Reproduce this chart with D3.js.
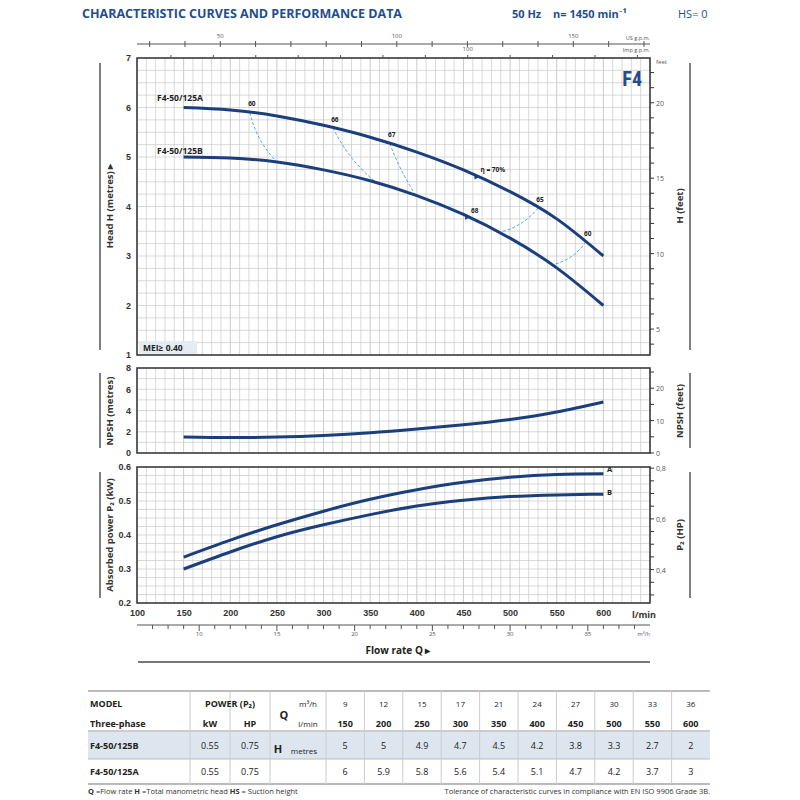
<!DOCTYPE html>
<html><head><meta charset="utf-8">
<script src="https://cdn.jsdelivr.net/npm/d3@7"></script>
<style>body{margin:0;background:#fff}svg{font-family:"Open Sans",Lato,sans-serif}</style>
</head><body><svg id="c" width="800" height="800"></svg>
<script>
const flow = [150,200,250,300,350,400,450,500,550,600];
const flowM3h = [9,12,15,17,21,24,27,30,33,36];
const headA = [6,5.9,5.8,5.6,5.4,5.1,4.7,4.2,3.7,3];
const headB = [5,5,4.9,4.7,4.5,4.2,3.8,3.3,2.7,2];
// curve values (table values are rounded)
const curveA = [6.0,5.95,5.83,5.64,5.4,5.1,4.74,4.3,3.75,3.0];
const curveB = [5.0,4.98,4.9,4.74,4.52,4.22,3.84,3.36,2.76,2.0];
const npsh = [1.5,1.45,1.5,1.65,1.9,2.25,2.65,3.15,3.85,4.8];
const powerA = [0.335,0.385,0.43,0.47,0.505,0.533,0.555,0.57,0.578,0.58];
const powerB = [0.3,0.35,0.395,0.43,0.46,0.485,0.502,0.513,0.518,0.52];
// iso-efficiency lines: flow on curve A, flow on curve B, label
const isoQA = [221,310,371,530,581];
const isoQB = [250,357,399,488,545];
const isoLabel = ["60","66","67","65","60"];
const isoBend = [1,1,0.4,-1,-1];
const etaMarks = [{curve:"A",q:465,label:"η = 70%"},{curve:"B",q:455,label:"68"}];
const models = ["F4-50/125B","F4-50/125A"];
const kW = ["0.55","0.55"], HP = ["0.75","0.75"];

const svg = d3.select("#c");
const navy = "#1b3f7c", grid = "#c9c9c9", blue = "#1f4e8c", dash = "#4fa3d3";
const x = d3.scaleLinear().domain([100,650]).range([137,650]);
const yH = d3.scaleLinear().domain([1,7]).range([355,58]);
const yN = d3.scaleLinear().domain([0,8]).range([453,368]);
const yP = d3.scaleLinear().domain([0.2,0.6]).range([603,467]);

function panel(y, step, major){
  const g = svg.append("g");
  const [y0,y1] = y.range();
  d3.range(100,650.1,10).forEach(v=>g.append("line").attr("x1",x(v)).attr("x2",x(v)).attr("y1",y0).attr("y2",y1)
    .attr("stroke", v%50===0?"#b5b5b5":grid).attr("stroke-width",0.7));
  const d = y.domain();
  d3.range(d[0], d[1]+1e-9, step).forEach(v=>g.append("line").attr("x1",137).attr("x2",650).attr("y1",y(v)).attr("y2",y(v))
    .attr("stroke",grid).attr("stroke-width",0.7));
  g.append("rect").attr("x",137).attr("y",y1).attr("width",513).attr("height",y0-y1).attr("fill","none").attr("stroke","#333").attr("stroke-width",1.5);
  const ax = svg.append("g").attr("transform","translate(137,0)").call(d3.axisLeft(y).tickValues(d3.range(d[0],d[1]+1e-9,major)).tickSize(0).tickPadding(6)
    .tickFormat(d3.format(major<1?".1f":"d")));
  ax.select(".domain").remove();
  ax.selectAll("text").attr("font-size",9).attr("font-weight","bold").attr("fill","#333");
  svg.append("line").attr("x1",100).attr("x2",100).attr("y1",y1+5).attr("y2",y0-5).attr("stroke","#555").attr("stroke-width",1.5);
  svg.append("line").attr("x1",690).attr("x2",690).attr("y1",y1+5).attr("y2",y0-5).attr("stroke","#555").attr("stroke-width",1.5);
}
panel(yH,0.25,1); panel(yN,1,2); panel(yP,0.025,0.1);

function rightAxis(vals, yf, labels, fmt){
  const g = svg.append("g");
  vals.forEach(v=>{ const yy=yf(v);
    g.append("line").attr("x1",650).attr("x2",654).attr("y1",yy).attr("y2",yy).attr("stroke","#333");
    if(labels.includes(v)) g.append("text").attr("x",656).attr("y",yy+3).attr("font-size",7).attr("fill","#555").text(fmt(v));});
}
const ft=0.3048;
rightAxis(d3.range(3,23,1).filter(f=>f*ft>=1&&f*ft<=7), f=>yH(f*ft), [5,10,15,20], d3.format("d"));
rightAxis(d3.range(0,26.3,5).filter(f=>f*ft<=8), f=>yN(f*ft), [0,10,20], d3.format("d"));
rightAxis(d3.range(0.3,0.801,0.05).map(v=>+v.toFixed(2)).filter(h=>h*0.7457>=0.2), h=>yP(h*0.7457), [0.4,0.6,0.8], v=>d3.format(".1f")(v).replace(".",","));
svg.append("text").attr("x",656).attr("y",64).attr("font-size",6).attr("fill","#555").text("feet");

function vt(txt, xx, yy){ svg.append("text").attr("transform",`translate(${xx},${yy}) rotate(-90)`).attr("text-anchor","middle")
  .attr("font-size",9.5).attr("font-weight","bold").attr("fill","#333").text(txt);}
vt("Head H  (metres)  ▸",113,206); vt("NPSH  (metres)",113,411); vt("Absorbed power  P₂  (kW)",113,535);
vt("H (feet)",683,206); vt("NPSH  (feet)",683,411); vt("P₂  (HP)",683,535);

const bx = svg.append("g").attr("transform","translate(0,603)").call(d3.axisBottom(x).tickValues(d3.range(100,601,50)).tickSize(0).tickPadding(7));
bx.select(".domain").remove(); bx.selectAll("text").attr("font-size",9).attr("font-weight","bold").attr("fill","#333");
svg.append("text").attr("x",644).attr("y",618).attr("text-anchor","middle").attr("font-size",9).attr("font-weight","bold").attr("fill","#333").text("l/min");
const xm = d3.scaleLinear().domain([6,39]).range([x(100),x(650)]);
svg.append("line").attr("x1",137).attr("x2",650).attr("y1",625).attr("y2",625).attr("stroke","#555");
d3.range(7,39,1).forEach(v=>svg.append("line").attr("x1",xm(v)).attr("x2",xm(v)).attr("y1",625).attr("y2",v%5===0?631:629).attr("stroke","#555"));
[10,15,20,25,30,35].forEach(v=>svg.append("text").attr("x",xm(v)).attr("y",636).attr("text-anchor","middle").attr("font-size",6).attr("fill","#555").text(v));
svg.append("text").attr("x",650).attr("y",636).attr("text-anchor","end").attr("font-size",5.5).attr("fill","#555").text("m³/h");
svg.append("text").attr("x",398).attr("y",654).attr("text-anchor","middle").attr("font-size",10).attr("font-weight","bold").attr("fill","#222").text("Flow rate Q  ▸");
svg.append("line").attr("x1",138).attr("x2",650).attr("y1",662).attr("y2",662).attr("stroke","#777").attr("stroke-width",2);

const xu = d3.scaleLinear().domain([100/3.78541,650/3.78541]).range([137,650]);
svg.append("line").attr("x1",137).attr("x2",650).attr("y1",44).attr("y2",44).attr("stroke","#555");
d3.range(30,172,10).forEach(v=>svg.append("line").attr("x1",xu(v)).attr("x2",xu(v)).attr("y1",41).attr("y2",47).attr("stroke","#555"));
[50,100,150].forEach(v=>svg.append("text").attr("x",xu(v)).attr("y",38).attr("text-anchor","middle").attr("font-size",6).attr("fill","#555").text(v));
svg.append("text").attr("x",650).attr("y",40).attr("text-anchor","end").attr("font-size",5.5).attr("fill","#555").text("US g.p.m.");
const xi = d3.scaleLinear().domain([100/4.54609,650/4.54609]).range([137,650]);
d3.range(30,143,10).forEach(v=>svg.append("line").attr("x1",xi(v)).attr("x2",xi(v)).attr("y1",55).attr("y2",58).attr("stroke","#555"));
[100].forEach(v=>svg.append("text").attr("x",xi(v)).attr("y",51).attr("text-anchor","middle").attr("font-size",6).attr("fill","#555").text(v));
svg.append("text").attr("x",650).attr("y",52).attr("text-anchor","end").attr("font-size",5.5).attr("fill","#555").text("Imp g.p.m.");

const line = (y,vals)=>d3.line().x((d,i)=>x(flow[i])).y((d,i)=>y(vals[i])).curve(d3.curveNatural)(vals);
const curves = [[yH,curveA],[yH,curveB],[yN,npsh],[yP,powerA],[yP,powerB]];
const interp = (arr,q)=>{ const i=Math.min(8,Math.max(0,Math.floor((q-150)/50))); const t=(q-flow[i])/50; return arr[i]+(arr[i+1]-arr[i])*t; };
isoQA.forEach((qa,k)=>{
  const qb=isoQB[k]; const x1=x(qa),y1=yH(interp(curveA,qa)),x2=x(qb),y2=yH(interp(curveB,qb));
  const mx=(x1+x2)/2,my=(y1+y2)/2, dx=x2-x1, dy=y2-y1, L=Math.hypot(dx,dy);
  const cx=mx - dy/L*8*isoBend[k], cy=my + dx/L*8*isoBend[k];
  svg.append("path").attr("d",`M${x1},${y1}Q${cx},${cy} ${x2},${y2}`).attr("fill","none").attr("stroke",dash).attr("stroke-width",1).attr("stroke-dasharray","3,2");
  svg.append("text").attr("x",x1+2).attr("y",y1-6).attr("text-anchor","middle").attr("font-size",6.5).attr("font-weight","bold").attr("fill","#222").text(isoLabel[k]);
});
curves.forEach(([y,v])=>svg.append("path").attr("d",line(y,v)).attr("fill","none").attr("stroke",navy).attr("stroke-width",3));
etaMarks.forEach(m=>{const arr=m.curve==="A"?curveA:curveB; const xx=x(m.q), yy=yH(interp(arr,m.q));
  svg.append("path").attr("d",`M${xx-3},${yy-3}L${xx+3},${yy}L${xx-3},${yy+3}Z`).attr("fill",navy);
  svg.append("text").attr("x",xx+3).attr("y",yy-4).attr("font-size",6.5).attr("font-weight","bold").attr("fill","#222").text(m.label);});
svg.append("text").attr("x",157).attr("y",101).attr("font-size",8.5).attr("font-weight","bold").attr("fill","#222").text(models[1]);
svg.append("text").attr("x",157).attr("y",154).attr("font-size",8.5).attr("font-weight","bold").attr("fill","#222").text(models[0]);
svg.append("text").attr("x",607).attr("y",472).attr("font-size",7.5).attr("font-weight","bold").attr("fill","#222").text("A");
svg.append("text").attr("x",607).attr("y",495).attr("font-size",7.5).attr("font-weight","bold").attr("fill","#222").text("B");
svg.append("text").attr("x",642).attr("y",86).attr("text-anchor","end").attr("font-size",20).attr("font-weight","bold").attr("fill",blue).attr("font-family","Roboto Condensed, Liberation Sans Narrow, sans-serif").text("F4");
svg.append("rect").attr("x",139).attr("y",341).attr("width",58).attr("height",13).attr("fill","#e4ebf1");
svg.append("text").attr("x",143).attr("y",351).attr("font-size",8.5).attr("font-weight","bold").attr("fill","#222").text("MEI≥ 0.40");

svg.append("text").attr("x",82).attr("y",18).attr("font-size",12.5).attr("font-weight","bold").attr("fill",blue).text("CHARACTERISTIC CURVES AND PERFORMANCE DATA");
svg.append("text").attr("x",512).attr("y",18).attr("font-size",11).attr("font-weight","bold").attr("fill",blue).text("50 Hz");
svg.append("text").attr("x",553).attr("y",18).attr("font-size",11).attr("font-weight","bold").attr("fill",blue).text("n= 1450 min⁻¹");
svg.append("text").attr("x",678).attr("y",18).attr("font-size",11).attr("fill",blue).text("HS= 0");

const T = svg.append("g").attr("font-size",9).attr("fill","#222");
const colX = d3.scaleBand().domain(flow).range([326,710]);
T.append("rect").attr("x",88).attr("y",732).attr("width",622).attr("height",27).attr("fill","#dde6ee");
[[88,710,691,2],[88,710,731,1.5],[88,710,759,1],[88,710,784,2]].forEach(([a,b,y,w])=>T.append("line").attr("x1",a).attr("x2",b).attr("y1",y).attr("y2",y).attr("stroke","#bbb").attr("stroke-width",w));
[190,230,270,326].concat(flow.slice(1).map(f=>colX(f))).forEach(xx=>T.append("line").attr("x1",xx).attr("x2",xx).attr("y1",691).attr("y2",784).attr("stroke","#ccc"));
const tt=(xx,y,t,o={})=>T.append("text").attr("x",xx).attr("y",y).attr("text-anchor",o.a||"middle").attr("font-weight",o.b?"bold":"normal").attr("font-size",o.s||9).text(t);
tt(90,707,"MODEL",{a:"start",b:1}); tt(90,727,"Three-phase",{a:"start",b:1});
tt(230,707,"POWER (P₂)",{b:1}); tt(210,727,"kW",{b:1}); tt(250,727,"HP",{b:1});
tt(284,719,"Q",{b:1,s:11}); tt(308,707,"m³/h",{s:8}); tt(308,727,"l/min",{s:8});
tt(278,753,"H",{b:1,s:11}); tt(304,754,"metres",{s:8});
flow.forEach((f,i)=>{const cx=colX(f)+colX.bandwidth()/2; tt(cx,707,flowM3h[i],{s:8}); tt(cx,727,f,{b:1});
  tt(cx,749,headB[i]); tt(cx,775,headA[i]);});
tt(90,749,models[0],{a:"start",b:1}); tt(90,775,models[1],{a:"start",b:1});
[0,1].forEach(r=>{const yy=r?775:749; tt(210,yy,kW[r]); tt(250,yy,HP[r]);});
svg.append("text").attr("x",88).attr("y",794).attr("font-size",7.5).attr("fill","#333").html("<tspan font-weight='bold'>Q</tspan> =Flow rate  <tspan font-weight='bold'>H</tspan> =Total manometric head  <tspan font-weight='bold'>HS</tspan> = Suction height");
svg.append("text").attr("x",710).attr("y",794).attr("text-anchor","end").attr("font-size",7.5).attr("fill","#333").text("Tolerance of characteristic curves in compliance with EN ISO 9906 Grade 3B.");
</script></body></html>
